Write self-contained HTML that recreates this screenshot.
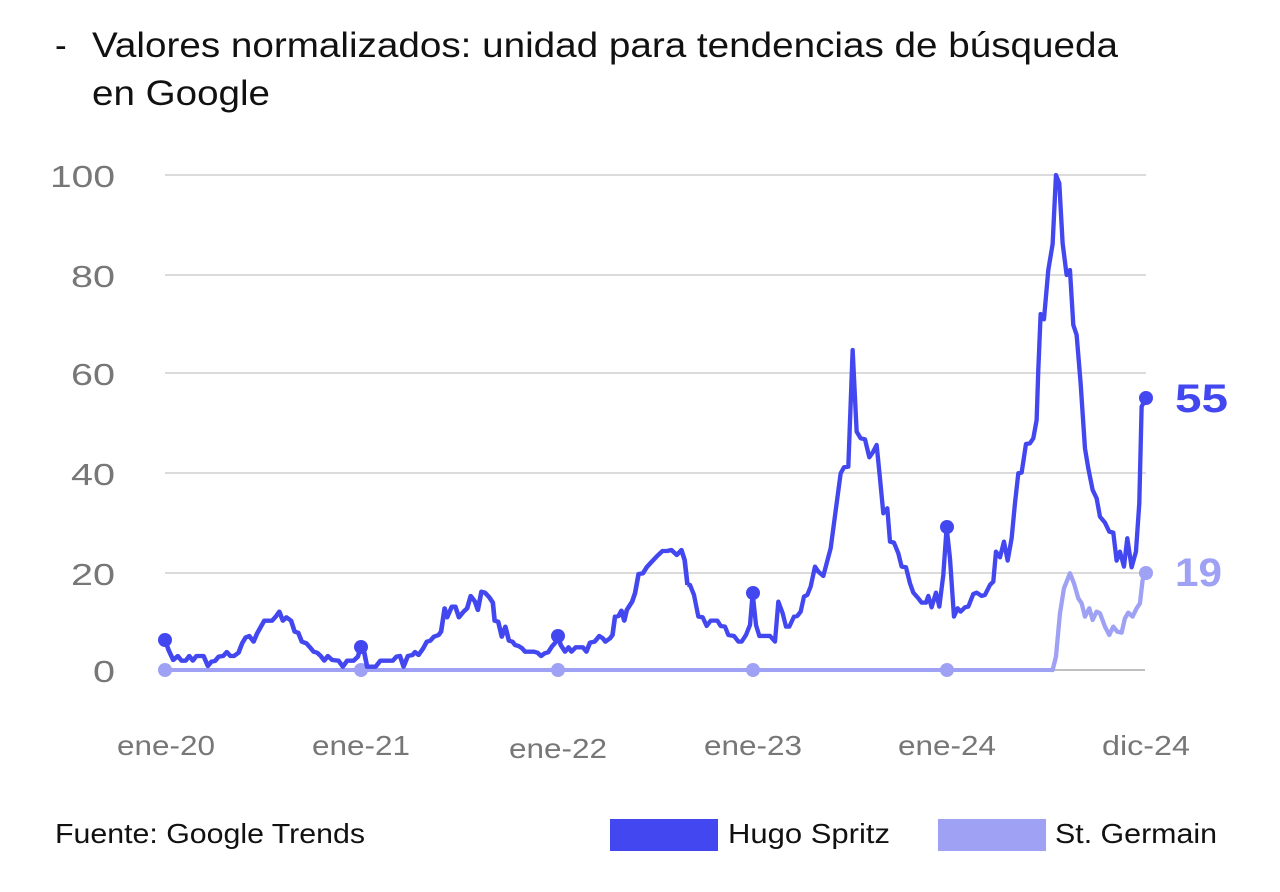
<!DOCTYPE html>
<html><head><meta charset="utf-8"><style>
body{margin:0;background:#fff;width:1280px;height:887px;overflow:hidden;font-family:"Liberation Sans",sans-serif}
</style></head><body>
<svg width="1280" height="887" xmlns="http://www.w3.org/2000/svg" font-family="Liberation Sans, sans-serif">
<text x="55" y="57" font-size="35" fill="#111">-</text>
<text x="92" y="57" font-size="35" fill="#111" textLength="1026" lengthAdjust="spacingAndGlyphs">Valores normalizados: unidad para tendencias de búsqueda</text>
<text x="92" y="105" font-size="35" fill="#111" textLength="178" lengthAdjust="spacingAndGlyphs">en Google</text>
<g stroke="#cfcfcf" stroke-width="1.5">
<line x1="165" x2="1146" y1="175" y2="175"/><line x1="165" x2="1146" y1="275" y2="275"/>
<line x1="165" x2="1146" y1="373" y2="373"/><line x1="165" x2="1146" y1="473" y2="473"/>
<line x1="165" x2="1146" y1="573" y2="573"/>
</g>
<line x1="165" x2="1145" y1="670" y2="670" stroke="#aaa" stroke-width="1.5"/>
<g font-size="31" fill="#777" text-anchor="end">
<text x="115" y="187" textLength="65" lengthAdjust="spacingAndGlyphs">100</text><text x="115" y="287" textLength="44" lengthAdjust="spacingAndGlyphs">80</text><text x="115" y="385" textLength="44" lengthAdjust="spacingAndGlyphs">60</text>
<text x="115" y="485" textLength="44" lengthAdjust="spacingAndGlyphs">40</text><text x="115" y="585" textLength="44" lengthAdjust="spacingAndGlyphs">20</text><text x="115" y="682" textLength="22" lengthAdjust="spacingAndGlyphs">0</text>
</g>
<g font-size="28" fill="#777" text-anchor="middle">
<text x="166" y="755" textLength="98" lengthAdjust="spacingAndGlyphs">ene-20</text><text x="361" y="755" textLength="98" lengthAdjust="spacingAndGlyphs">ene-21</text><text x="558" y="758" textLength="98" lengthAdjust="spacingAndGlyphs">ene-22</text>
<text x="753" y="755" textLength="98" lengthAdjust="spacingAndGlyphs">ene-23</text><text x="947" y="755" textLength="98" lengthAdjust="spacingAndGlyphs">ene-24</text><text x="1146" y="755" textLength="88" lengthAdjust="spacingAndGlyphs">dic-24</text>
</g>
<line x1="165" x2="1051" y1="670" y2="670" stroke="#9ea1f4" stroke-width="4"/>
<g fill="#9ea1f4"><circle cx="165" cy="670" r="7"/><circle cx="361" cy="670" r="7"/><circle cx="558" cy="670" r="7"/><circle cx="753" cy="670" r="7"/><circle cx="947" cy="670" r="7"/><circle cx="1146" cy="573" r="7"/></g>
<g transform="translate(690,170) scale(0.3333)">
<polyline fill="none" stroke="#9ea1f4" stroke-width="13" stroke-linejoin="round" points="1080,1500 1088,1500 1098,1460 1110,1330 1122,1255 1140,1210 1152,1240 1165,1285 1175,1300 1185,1340 1198,1315 1208,1350 1220,1325 1230,1330 1245,1370 1258,1395 1270,1370 1282,1385 1295,1388 1305,1345 1315,1328 1328,1340 1340,1315 1350,1300 1358,1230 1368,1210"/>
</g>
<g transform="translate(150,560) scale(0.35714,0.33333)">
<polyline fill="none" stroke="#4347ef" stroke-width="13" stroke-linejoin="round" points="42,240 52,270 65,300 78,288 88,302 100,302 110,288 120,302 130,288 150,288 162,318 172,305 182,303 192,290 205,288 215,276 225,288 235,288 248,278 258,250 268,232 278,228 290,245 300,220 320,182 342,182 352,170 362,155 372,182 382,172 395,182 405,215 415,218 425,245 438,250 448,262 458,275 468,278 478,288 488,302 498,288 510,300 528,302 540,320 552,302 570,302 582,290 590,262 600,278 608,320 632,320 645,302 680,302 690,290 700,288 710,320 722,288 735,285 742,276 752,285 765,265 775,245 785,242 795,230 808,225 815,215 825,145 832,172 845,140 855,140 865,172 878,155 888,145 898,108 910,125 918,150 928,95 938,98 950,112 960,128 965,182 975,185 985,230 995,200 1005,242 1015,245 1022,255 1032,258 1042,265 1050,275 1075,275 1085,278 1095,288 1105,280 1115,277 1125,260 1135,248 1143,230 1150,255 1162,275 1172,262 1180,275 1192,262 1212,262 1222,275 1232,248 1245,245 1258,228 1268,235 1275,245 1288,235 1295,225 1302,170 1312,168 1320,152 1328,182 1335,150 1350,125 1358,100 1368,42 1380,40 1392,20 1405,5 1420,-12 1435,-27 1448,-27 1460,-30 1475,-15 1488,-30 1497,0 1505,75"/>
</g>
<g transform="translate(690,170) scale(0.3333)">
<polyline fill="none" stroke="#4347ef" stroke-width="13" stroke-linejoin="round" points="-8,1245 0,1245 12,1275 25,1340 38,1342 50,1368 62,1352 82,1352 92,1368 105,1370 115,1395 132,1398 145,1415 155,1415 168,1395 180,1365 188,1270 198,1365 208,1398 240,1398 255,1415 265,1295 278,1330 288,1370 298,1370 312,1340 322,1338 332,1325 342,1280 352,1275 362,1250 375,1190 385,1205 400,1218 410,1180 422,1135 432,1060 442,985 452,910 462,892 475,890 488,540 500,785 512,805 525,808 538,862 548,848 560,825 570,925 580,1030 592,1015 600,1115 612,1118 625,1150 635,1190 648,1192 660,1240 670,1268 685,1285 695,1298 708,1298 715,1278 725,1312 738,1268 748,1310 760,1215 770,1072 780,1165 792,1340 803,1315 812,1325 825,1312 835,1310 850,1272 860,1268 875,1278 885,1275 900,1245 910,1235 918,1145 930,1162 942,1115 953,1172 965,1105 975,1000 985,910 995,908 1008,822 1020,820 1030,805 1040,750 1045,600 1052,432 1062,448 1075,300 1088,222 1098,15 1108,40 1118,220 1130,315 1140,300 1150,465 1160,495 1172,640 1185,835 1195,895 1208,960 1220,985 1230,1040 1245,1058 1258,1085 1270,1088 1280,1172 1290,1145 1302,1190 1312,1105 1325,1192 1338,1145 1348,1000 1355,710 1368,685"/>
</g>
<g fill="#4347ef"><circle cx="165" cy="640" r="7"/><circle cx="361" cy="647" r="7"/><circle cx="558" cy="636" r="7"/><circle cx="753" cy="593" r="7"/><circle cx="947" cy="527" r="7"/><circle cx="1146" cy="398" r="7"/></g>
<text x="1175" y="412" font-size="40" font-weight="bold" fill="#4347ef" textLength="53" lengthAdjust="spacingAndGlyphs">55</text>
<text x="1175" y="586" font-size="40" font-weight="bold" fill="#9ea1f4" textLength="47" lengthAdjust="spacingAndGlyphs">19</text>
<text x="55" y="843" font-size="28" fill="#111" textLength="310" lengthAdjust="spacingAndGlyphs">Fuente: Google Trends</text>
<rect x="610" y="819" width="108" height="32" fill="#4347ef"/>
<text x="728" y="843" font-size="28" fill="#111" textLength="162" lengthAdjust="spacingAndGlyphs">Hugo Spritz</text>
<rect x="938" y="819" width="108" height="32" fill="#9ea1f4"/>
<text x="1055" y="843" font-size="28" fill="#111" textLength="162" lengthAdjust="spacingAndGlyphs">St. Germain</text>
</svg>
</body></html>
